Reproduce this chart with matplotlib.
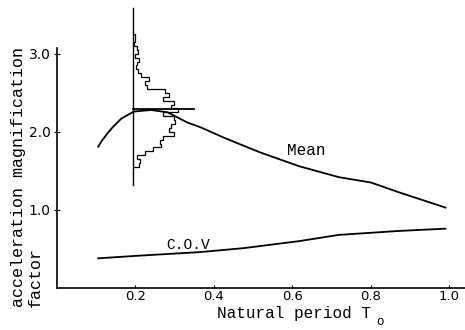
import numpy as np
import matplotlib
matplotlib.use("Agg")
import matplotlib.pyplot as plt

# Mean and C.O.V of the acceleration magnification factor vs natural period
mean_T = [0.105, 0.115, 0.127, 0.142, 0.164, 0.196, 0.24, 0.282, 0.332, 0.365, 0.428,
          0.516, 0.617, 0.718, 0.801, 0.869, 0.99]
mean_v = [1.81, 1.89, 1.97, 2.06, 2.17, 2.26, 2.28, 2.25, 2.12, 2.06, 1.92,
          1.74, 1.56, 1.42, 1.35, 1.23, 1.03]

cov_T = [0.105, 0.196, 0.365, 0.475, 0.617, 0.718, 0.869, 0.99]
cov_v = [0.38, 0.41, 0.46, 0.51, 0.60, 0.68, 0.73, 0.76]

# Distribution of the factor at T0 = 0.2 (bin edges on the factor axis, bar lengths in period units)
hist_edges = [1.55, 1.60, 1.65, 1.70, 1.75, 1.80, 1.85, 1.90, 1.95, 2.00, 2.05, 2.10,
              2.15, 2.20, 2.25, 2.30, 2.35, 2.40, 2.45, 2.50, 2.55, 2.60, 2.65, 2.70,
              2.75, 2.80, 2.85, 2.90, 2.95, 3.00, 3.05, 3.10, 3.15, 3.20, 3.25]
hist_len = [0.015, 0.018, 0.010, 0.031, 0.051, 0.072, 0.069, 0.077, 0.103, 0.092, 0.097,
            0.108, 0.103, 0.077, 0.115, 0.097, 0.103, 0.077, 0.092, 0.082, 0.036, 0.031,
            0.041, 0.020, 0.013, 0.008, 0.010, 0.015, 0.005, 0.013, 0.010, 0.003, 0.005, 0.005]
hist_T = 0.194
hist_axis = [1.32, 3.58]
peak_line = [0.194, 0.35, 2.29]

xticks = [0.2, 0.4, 0.6, 0.8, 1.0]
xticklabels = ["0.2", "0.4", "0.6", "0.8", "1.0"]
yticks = [1.0, 2.0, 3.0]
yticklabels = ["1.0", "2.0", "3.0"]

mono = "Liberation Mono"

fig = plt.figure(figsize=(4.65, 3.3), dpi=100)
ax = fig.add_axes([57 / 465, 42 / 330, 408 / 465, 285 / 330])
ax.set_xlim(0, 1.04)
ax.set_ylim(0, 3.65)

lw = 1.3
ax.plot(mean_T, mean_v, color="black", lw=lw)
ax.plot(cov_T, cov_v, color="black", lw=lw)

ax.plot([hist_T, hist_T], hist_axis, color="black", lw=1.0)
ax.plot(peak_line[:2], [peak_line[2]] * 2, color="black", lw=lw)
ax.stairs(np.array(hist_len) + hist_T, hist_edges, orientation="horizontal",
          baseline=hist_T, color="black", lw=0.9)

ax.text(0.635, 1.76, "Mean", family=mono, fontsize=11.5, ha="center", va="center")
ax.text(0.335, 0.55, "C.O.V", family=mono, fontsize=10.5, ha="center", va="center")

for s in ["top", "right"]:
    ax.spines[s].set_visible(False)
ax.spines["left"].set_bounds(0, 3.08)
ax.spines["left"].set_linewidth(1.2)
ax.spines["bottom"].set_linewidth(1.2)

ax.set_xticks(xticks)
ax.set_xticklabels(xticklabels)
ax.set_yticks(yticks)
ax.set_yticklabels(yticklabels)
ax.tick_params(axis="y", direction="inout", length=5, labelsize=10, pad=2)
ax.tick_params(axis="x", direction="in", length=2, labelsize=9.5, pad=1.5)

# y label: two columns, both starting at the bottom
fig.text(19 / 465, 23 / 330, "acceleration magnification", rotation=90,
         family=mono, fontsize=12, ha="center", va="bottom")
fig.text(35 / 465, 23 / 330, "factor", rotation=90,
         family=mono, fontsize=12, ha="center", va="bottom")
fig.text(217 / 465, 12 / 330, "Natural period T", family=mono, fontsize=11.5,
         ha="left", va="baseline")
fig.text(380 / 465, 8 / 330, "o", family=mono, fontsize=9, ha="center", va="center")

fig.savefig("out.png", dpi=100)
